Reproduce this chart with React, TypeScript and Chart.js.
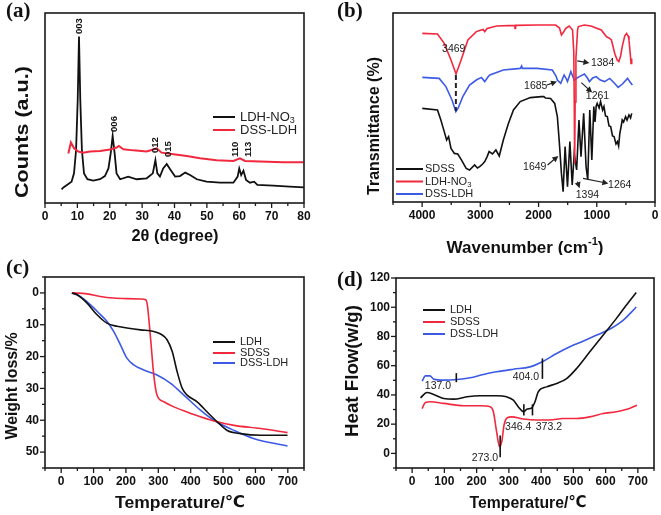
import React, { useEffect, useRef } from 'react';
import { Chart, registerables } from 'chart.js';

Chart.register(...registerables);

type Pt = [number, number];

const SANS = '"Liberation Sans", Arial, "DejaVu Sans", "Noto Sans CJK SC", sans-serif';
const SERIF = '"Liberation Serif", "Times New Roman", serif';
const RED = '#f2283e';
const BLUE = '#3c5ae6';
const BLACK = '#111111';

// ---------- (a) XRD ----------
const xrdAngleTicks = [0, 10, 20, 30, 40, 50, 60, 70, 80];
const xrdLdhNO3: Pt[] = [
  [5.1, 7.2], [5.7, 8.2], [8.2, 11.2], [8.96, 15.6], [9.6, 27.9], [10.1, 54.2], [10.5, 87.6], [10.9, 54.2],
  [11.4, 27.9], [12.05, 15.6], [13.1, 12.5], [14.9, 11.8], [17, 12.5], [18.5, 14.2], [19.6, 18.2], [20.3, 26.2],
  [20.9, 35.3], [21.5, 26.2], [22.1, 15.6], [23.2, 12.5], [25.7, 13.9], [28.3, 12.5], [31.4, 13.0], [33.3, 15.6],
  [34.1, 22.6], [34.7, 15.6], [35.5, 13.9], [36.5, 18.2], [37.6, 20.5], [38.8, 17.4], [40.2, 13.9], [41.7, 14.2],
  [43.3, 16.0], [44.8, 14.7], [46.9, 12.5], [49.9, 11.2], [54.1, 10.7], [58.2, 10.7], [59.5, 13.9], [60.0, 18.2],
  [60.6, 14.7], [61.3, 17.0], [62.1, 12.1], [63.3, 10.7], [64.6, 11.2], [65.6, 9.5], [70.5, 9.1], [75.6, 8.6], [80, 8.2],
];
const xrdDssLdh: Pt[] = [
  [7.2, 26.0], [8.0, 31.8], [9.0, 28.8], [10.3, 27.1], [11.8, 26.5], [13.9, 27.1], [17.0, 27.4], [20.1, 28.1],
  [22.1, 29.2], [22.8, 30.0], [24.2, 28.3], [27.3, 27.7], [31.4, 27.1], [33.7, 28.3], [34.5, 28.8], [36.0, 26.5],
  [39.7, 25.6], [43.8, 24.7], [47.9, 23.5], [53.0, 22.5], [58.2, 22.1], [60.2, 23.5], [61.8, 22.1], [66.4, 21.8],
  [73.6, 21.4], [79.8, 21.4],
];
const xrdPeakLabels = [
  { x: 10.6, y: 88.9, t: '003' }, { x: 21.3, y: 37.4, t: '006' }, { x: 34.0, y: 26.3, t: '012' },
  { x: 38.0, y: 24.2, t: '015' }, { x: 58.8, y: 24.2, t: '110' }, { x: 62.7, y: 24.2, t: '113' },
];

// ---------- (b) FTIR ----------
const ftirWaveTicks = [0, 1000, 2000, 3000, 4000];
const ftirLdhNO3: Pt[] = [
  [3997, 84.3], [3736, 84], [3620, 79.3], [3504, 71], [3417, 64], [3330, 71], [3214, 81], [3069, 85.2], [2953, 86.3],
  [2924, 85.2], [2883, 86.8], [2721, 88], [2410, 88.3], [2402, 86.8], [2394, 88.3], [2025, 88.5], [1706, 88.5],
  [1640, 87], [1607, 83.5], [1570, 85], [1532, 86.8], [1474, 88], [1416, 86], [1395, 75], [1387, 50], [1380, 19.3],
  [1372, 50], [1358, 72], [1330, 86], [1317, 87.7], [1213, 88.5], [1100, 88], [923, 86], [836, 82.7], [790, 82],
  [749, 81], [691, 74.3], [650, 71], [621, 70.2], [590, 73], [563, 77.7], [520, 83], [488, 84.3], [460, 83],
  [447, 81], [425, 74], [412, 69.3], [400, 71.8],
];
const ftirDssLdh: Pt[] = [
  [3997, 62.3], [3707, 61.8], [3591, 57.7], [3487, 51], [3420, 45.2], [3380, 47], [3301, 52.7], [3185, 58.5],
  [3069, 61], [2982, 62.3], [2924, 60.2], [2870, 62.5], [2837, 63.5], [2605, 66], [2315, 66.8], [2290, 68],
  [2280, 66.8], [2025, 66.8], [1764, 66], [1700, 63], [1677, 61], [1619, 59.3], [1561, 63.5], [1530, 62],
  [1503, 60.2], [1445, 65.2], [1387, 61], [1340, 62], [1300, 62.7], [1213, 64], [1160, 62], [1126, 60.2],
  [1070, 62], [1010, 62.7], [940, 61], [865, 60.2], [778, 61.8], [700, 59.5], [633, 57.3], [560, 59], [471, 61.8],
  [430, 60], [389, 58.5],
];
const ftirSdss: Pt[] = [
  [3997, 46.8], [3736, 46], [3678, 41], [3620, 35.2], [3579, 31], [3545, 32.7], [3504, 26.8], [3446, 24.3],
  [3388, 24], [3330, 21.3], [3243, 16.8], [3185, 16], [3098, 18.5], [3050, 17], [3011, 17.7], [2960, 19],
  [2924, 20.2], [2883, 22.7], [2849, 25.2], [2791, 24], [2733, 26], [2675, 23], [2605, 31], [2518, 39.3],
  [2431, 46], [2315, 50.2], [2141, 52.2], [1950, 52.7], [1909, 52.7], [1880, 52], [1793, 51.8], [1723, 49.3],
  [1677, 42.7], [1642, 29.3], [1607, 14.3], [1578, 5.2], [1544, 27.7], [1503, 7.7], [1462, 30.2], [1422, 8.5],
  [1387, 24.3], [1346, 16], [1306, 41], [1271, 22.7], [1225, 44.3], [1184, 17.7], [1155, 11], [1120, 46],
  [1085, 21], [1051, 47.7], [1030, 40], [1010, 48], [993, 49.3], [960, 47], [935, 50.2], [900, 46], [877, 47.7],
  [850, 43], [819, 42.7], [790, 38], [761, 37.7], [730, 33], [703, 32.7], [670, 29], [645, 30.2], [625, 28],
  [604, 34.3], [580, 38], [563, 41], [540, 40], [505, 42.7], [480, 41], [447, 43.5], [420, 42], [400, 44.3],
];
const ftirArrows = [
  { t: '1384', tx: 900, ty: 69.3, x1: 1335, y1: 70.6, x2: 1126, y2: 69.5 },
  { t: '1685', tx: 2048, ty: 58, x1: 1857, y1: 58.5, x2: 1683, y2: 60.2 },
  { t: '1261', tx: 987, ty: 52.7, x1: 1265, y1: 59.7, x2: 1079, y2: 54.7 },
  { t: '1649', tx: 2065, ty: 17.4, x1: 1845, y1: 18.5, x2: 1660, y2: 23 },
  { t: '1394', tx: 1161, ty: 3.5, x1: 1335, y1: 10.2, x2: 1295, y2: 6.9 },
  { t: '1264', tx: 605, ty: 8.5, x1: 1236, y1: 11.8, x2: 801, y2: 9.3 },
];
const ftirOH = { t: '3469', tx: 3457, ty: 76.3, x: 3420, y1: 63.5, y2: 45.5 };

// ---------- (c) TG ----------
const tgTempTicks = [0, 100, 200, 300, 400, 500, 600, 700];
const tgWeightTicks = [0, 10, 20, 30, 40, 50];
const tgLdh: Pt[] = [
  [33, 0], [48, 0.5], [80, 3.2], [110, 6.8], [141, 9.5], [172, 10.5], [203, 11], [245, 11.6], [286, 12.1],
  [307, 12.9], [327, 14.7], [343, 18.4], [358, 24.7], [374, 30], [389, 32.1], [420, 34.2], [451, 37.4],
  [482, 40.5], [513, 43.2], [554, 44.2], [616, 44.7], [699, 44.7],
];
const tgSdss: Pt[] = [
  [33, 0], [80, 0.3], [121, 1.1], [162, 1.6], [203, 1.8], [245, 1.9], [260, 2.1], [266, 3.7], [276, 14.2],
  [286, 25.8], [296, 32.1], [317, 34.2], [348, 35.8], [389, 37.4], [430, 38.9], [482, 40.5], [534, 41.6],
  [616, 42.6], [699, 43.9],
];
const tgDssLdh: Pt[] = [
  [33, 0], [59, 1.1], [90, 3.7], [121, 6.8], [141, 8.9], [162, 12.1], [183, 16.3], [203, 20.5], [224, 22.6],
  [255, 24.2], [296, 25.8], [338, 28.4], [379, 32.1], [430, 36.8], [472, 40], [534, 43.2], [596, 45.8], [699, 48.1],
];

// ---------- (d) DSC ----------
const dscTempTicks = [0, 100, 200, 300, 400, 500, 600, 700];
const dscFlowTicks = [0, 20, 40, 60, 80, 100, 120];
const dscLdh: Pt[] = [
  [26, 38], [46, 41.7], [67, 40.3], [98, 37.6], [129, 37.1], [170, 38.7], [211, 39.4], [262, 39.4], [293, 38.7],
  [314, 36.4], [329, 31.9], [345, 28.5], [357, 30.3], [371, 31.2], [381, 35.3], [391, 42.1], [417, 45.5],
  [448, 47.8], [479, 51.2], [510, 58.1], [551, 69.5], [592, 80.8], [633, 92.2], [664, 101.3], [695, 110],
];
const dscSdss: Pt[] = [
  [31, 30.7], [41, 34.8], [57, 35.3], [98, 34.2], [160, 32.6], [211, 32.6], [242, 31.9], [252, 28.5], [262, 14.8],
  [271, 4.6], [278, 8], [285, 19.4], [295, 24.4], [309, 25], [345, 23.5], [386, 22.8], [427, 22.8], [468, 23.9],
  [510, 23.9], [551, 25], [592, 27.3], [633, 28.5], [674, 30.7], [697, 33],
];
const dscDssLdh: Pt[] = [
  [31, 49.4], [41, 53], [55, 53], [67, 50.8], [98, 50.1], [139, 50.5], [180, 51.7], [221, 54], [262, 55.8],
  [314, 57.6], [365, 59.2], [407, 63.1], [448, 68.3], [489, 72.9], [530, 76.7], [571, 80.8], [612, 84.9],
  [654, 91], [695, 100.2],
];
const dscMarks = [
  { x: 137, y1: 48.7, y2: 54.9 }, { x: 404, y1: 51, y2: 65 }, { x: 346.4, y1: 26, y2: 33.6 },
  { x: 373.2, y1: 26, y2: 33.6 }, { x: 273, y1: -2.7, y2: 12.3 },
];
const dscLabels = [
  { x: 80, y: 46.3, t: '137.0' }, { x: 353, y: 52, t: '404.0' }, { x: 329, y: 18, t: '346.4' },
  { x: 424, y: 18, t: '373.2' }, { x: 226, y: -3.4, t: '273.0' },
];

// ---------- helpers ----------
interface Seg { t: string; s?: number; dy?: number }

function drawRich(
  ctx: CanvasRenderingContext2D, segs: Seg[], size: number, weight: string, family: string,
  x: number, y: number, align: 'left' | 'center', target?: number, rotate = false, color = BLACK,
) {
  ctx.save();
  ctx.translate(x, y);
  if (rotate) ctx.rotate(-Math.PI / 2);
  const widths = segs.map((sg) => {
    ctx.font = `${weight} ${(sg.s ?? 1) * size}px ${family}`;
    return ctx.measureText(sg.t).width;
  });
  const total = widths.reduce((a, b) => a + b, 0);
  const k = target ? target / total : 1;
  ctx.scale(k, 1);
  let cx = align === 'center' ? -total / 2 : 0;
  ctx.fillStyle = color;
  ctx.textBaseline = 'middle';
  ctx.textAlign = 'left';
  segs.forEach((sg, i) => {
    ctx.font = `${weight} ${(sg.s ?? 1) * size}px ${family}`;
    ctx.fillText(sg.t, cx, (sg.dy ?? 0) * size);
    cx += widths[i];
  });
  ctx.restore();
}

function arrow(ctx: CanvasRenderingContext2D, x1: number, y1: number, x2: number, y2: number) {
  const a = Math.atan2(y2 - y1, x2 - x1);
  const hl = 6, hw = 3;
  ctx.beginPath();
  ctx.moveTo(x1, y1);
  ctx.lineTo(x2 - hl * 0.8 * Math.cos(a), y2 - hl * 0.8 * Math.sin(a));
  ctx.stroke();
  ctx.beginPath();
  ctx.moveTo(x2, y2);
  ctx.lineTo(x2 - hl * Math.cos(a) + hw * Math.sin(a), y2 - hl * Math.sin(a) - hw * Math.cos(a));
  ctx.lineTo(x2 - hl * Math.cos(a) - hw * Math.sin(a), y2 - hl * Math.sin(a) + hw * Math.cos(a));
  ctx.closePath();
  ctx.fill();
}

interface Series { label: string; pts: Pt[]; color: string; width?: number; smooth?: boolean }
interface Title { segs: Seg[]; x: number; y: number; size: number; w: number }
interface Spec {
  series: Series[];
  xMin: number; xMax: number; xReverse?: boolean; xTicks: number[]; xMinor: number; xMajor: number;
  yMin: number; yMax: number; yReverse?: boolean; yTicks?: number[]; yMinor?: number; yMajor?: number;
  pad: { left: number; top: number; right: number; bottom: number };
  xAxisH: number; yAxisW?: number;
  xTitle: Title; yTitle: Title;
  label: { t: string; x: number; y: number };
  legend: { x: number; len: number; tx: number; ys: number[]; size: number; items: { segs: Seg[]; color: string }[] };
  annotate?: (chart: Chart, ctx: CanvasRenderingContext2D) => void;
}

function decor(spec: Spec) {
  return {
    id: 'decor',
    afterDraw(chart: Chart) {
      const ctx = chart.ctx;
      const { left, right, top, bottom } = chart.chartArea;
      const xs: any = chart.scales.x;
      const ys: any = chart.scales.y;
      ctx.save();
      if (spec.annotate) spec.annotate(chart, ctx);
      // frame
      ctx.strokeStyle = '#1a1a1a';
      ctx.lineWidth = 1.6;
      ctx.strokeRect(left, top, right - left, bottom - top);
      // x ticks
      ctx.lineWidth = 1.3;
      const lo = Math.min(spec.xMin, spec.xMax), hi = Math.max(spec.xMin, spec.xMax);
      for (let v = Math.ceil(lo / spec.xMinor) * spec.xMinor; v <= hi + 1e-9; v += spec.xMinor) {
        const px = xs.getPixelForValue(v);
        const major = Math.abs(v / spec.xMajor - Math.round(v / spec.xMajor)) < 1e-6;
        ctx.beginPath();
        ctx.moveTo(px, bottom);
        ctx.lineTo(px, bottom + (major ? 5 : 3));
        ctx.stroke();
      }
      if (spec.yMinor && spec.yMajor) {
        for (let v = Math.ceil(spec.yMin / spec.yMinor) * spec.yMinor; v <= spec.yMax + 1e-9; v += spec.yMinor) {
          const py = ys.getPixelForValue(v);
          const major = Math.abs(v / spec.yMajor - Math.round(v / spec.yMajor)) < 1e-6;
          ctx.beginPath();
          ctx.moveTo(left, py);
          ctx.lineTo(left - (major ? 5 : 3), py);
          ctx.stroke();
        }
      }
      // legend
      const lg = spec.legend;
      lg.items.forEach((it, i) => {
        ctx.strokeStyle = it.color;
        ctx.lineWidth = 2;
        ctx.beginPath();
        ctx.moveTo(lg.x, lg.ys[i]);
        ctx.lineTo(lg.x + lg.len, lg.ys[i]);
        ctx.stroke();
        drawRich(ctx, it.segs, lg.size, 'normal', SANS, lg.tx, lg.ys[i], 'left', undefined, false, '#222');
      });
      // titles
      const xt = spec.xTitle, yt = spec.yTitle;
      drawRich(ctx, xt.segs, xt.size, 'bold', SANS, xt.x, xt.y, 'center', xt.w);
      drawRich(ctx, yt.segs, yt.size, 'bold', SANS, yt.x, yt.y, 'center', yt.w, true);
      // panel label
      ctx.fillStyle = BLACK;
      ctx.font = `bold 21px ${SERIF}`;
      ctx.textBaseline = 'middle';
      ctx.textAlign = 'left';
      ctx.fillText(spec.label.t, spec.label.x, spec.label.y);
      ctx.restore();
    },
  };
}

function makeConfig(spec: Spec): any {
  const tickFont = { family: SANS, size: 12, weight: 'bold' as const };
  const plain = (v: any) => String(v);
  return {
    type: 'line',
    data: {
      datasets: spec.series.map((s) => ({
        label: s.label,
        data: s.pts.map(([x, y]) => ({ x, y })),
        borderColor: s.color,
        borderWidth: s.width ?? 1.6,
        pointRadius: 0,
        fill: false,
        tension: s.smooth ? 0.4 : 0,
        cubicInterpolationMode: s.smooth ? 'monotone' : 'default',
      })),
    },
    options: {
      responsive: false,
      animation: false,
      devicePixelRatio: 1,
      events: [],
      layout: { padding: spec.pad },
      plugins: { legend: { display: false }, tooltip: { enabled: false } },
      scales: {
        x: {
          type: 'linear',
          min: Math.min(spec.xMin, spec.xMax),
          max: Math.max(spec.xMin, spec.xMax),
          reverse: !!spec.xReverse,
          grid: { display: false, drawTicks: false },
          border: { display: false },
          ticks: { font: tickFont, color: BLACK, padding: 6, autoSkip: false, maxRotation: 0, callback: plain },
          afterBuildTicks: (s: any) => { s.ticks = spec.xTicks.map((v) => ({ value: v })); },
          afterFit: (s: any) => { s.height = spec.xAxisH; },
        },
        y: {
          type: 'linear',
          display: !!spec.yTicks,
          min: spec.yMin,
          max: spec.yMax,
          reverse: !!spec.yReverse,
          grid: { display: false, drawTicks: false },
          border: { display: false },
          ticks: { font: tickFont, color: BLACK, padding: 6, autoSkip: false, callback: plain },
          afterBuildTicks: (s: any) => { if (spec.yTicks) s.ticks = spec.yTicks.map((v) => ({ value: v })); },
          afterFit: (s: any) => { s.width = spec.yAxisW ?? 0; },
        },
      },
    },
    plugins: [decor(spec)],
  };
}

function Panel({ spec, left, top, width, height }: { spec: Spec; left: number; top: number; width: number; height: number }) {
  const ref = useRef<HTMLCanvasElement>(null);
  useEffect(() => {
    if (!ref.current) return;
    const chart = new Chart(ref.current, makeConfig(spec));
    return () => chart.destroy();
  }, [spec]);
  return <canvas ref={ref} width={width} height={height} style={{ position: 'absolute', left, top, width, height }} />;
}

const legendNO3: Seg[] = [{ t: 'LDH-NO' }, { t: '3', s: 0.7, dy: 0.3 }];
const CELSIUS: Seg[] = [{ t: 'Temperature/' }, { t: '℃', s: 0.95 }];

const specA: Spec = {
  series: [
    { label: 'DSS-LDH', pts: xrdDssLdh, color: RED, width: 2 },
    { label: 'LDH-NO3', pts: xrdLdhNO3, color: BLACK, width: 1.8 },
  ],
  xMin: 0, xMax: 80, xTicks: xrdAngleTicks, xMinor: 5, xMajor: 10,
  yMin: 0, yMax: 100,
  pad: { left: 45, top: 13, right: 26, bottom: 0 }, xAxisH: 52,
  xTitle: { segs: [{ t: '2θ (degree)' }], x: 175, y: 237, size: 16, w: 87 },
  yTitle: { segs: [{ t: 'Counts (a.u.)' }], x: 23, y: 132, size: 19, w: 132 },
  label: { t: '(a)', x: 6, y: 12 },
  legend: {
    x: 213, len: 22, tx: 240, ys: [117, 130], size: 13,
    items: [{ segs: legendNO3, color: BLACK }, { segs: [{ t: 'DSS-LDH' }], color: RED }],
  },
  annotate: (chart, ctx) => {
    const xs: any = chart.scales.x, ys: any = chart.scales.y;
    ctx.fillStyle = BLACK;
    ctx.font = `bold 9.5px ${SANS}`;
    xrdPeakLabels.forEach((p) => {
      ctx.save();
      ctx.translate(xs.getPixelForValue(p.x), ys.getPixelForValue(p.y));
      ctx.rotate(-Math.PI / 2);
      ctx.textAlign = 'left';
      ctx.textBaseline = 'middle';
      ctx.fillText(p.t, 0, 0);
      ctx.restore();
    });
  },
};

const specB: Spec = {
  series: [
    { label: 'LDH-NO3', pts: ftirLdhNO3, color: RED, width: 1.6 },
    { label: 'DSS-LDH', pts: ftirDssLdh, color: BLUE, width: 1.6 },
    { label: 'SDSS', pts: ftirSdss, color: BLACK, width: 1.6 },
  ],
  xMin: 0, xMax: 4500, xReverse: true, xTicks: ftirWaveTicks, xMinor: 500, xMajor: 1000,
  yMin: 0, yMax: 94.5,
  pad: { left: 63, top: 13, right: 6, bottom: 0 }, xAxisH: 53,
  xTitle: { segs: [{ t: 'Wavenumber (cm' }, { t: '-1', s: 0.65, dy: -0.35 }, { t: ')' }], x: 195, y: 248, size: 17, w: 157 },
  yTitle: { segs: [{ t: 'Transmittance (%)' }], x: 44, y: 126, size: 17, w: 138 },
  label: { t: '(b)', x: 7, y: 12 },
  legend: {
    x: 66, len: 27, tx: 95, ys: [169, 181.5, 194], size: 11,
    items: [
      { segs: [{ t: 'SDSS' }], color: BLACK },
      { segs: [{ t: 'LDH-NO' }, { t: '3', s: 0.7, dy: 0.3 }], color: RED },
      { segs: [{ t: 'DSS-LDH' }], color: BLUE },
    ],
  },
  annotate: (chart, ctx) => {
    const xs: any = chart.scales.x, ys: any = chart.scales.y;
    ctx.fillStyle = '#222';
    ctx.strokeStyle = '#222';
    ctx.font = `10.5px ${SANS}`;
    ctx.textAlign = 'center';
    ctx.textBaseline = 'middle';
    ctx.fillText(ftirOH.t, xs.getPixelForValue(ftirOH.tx), ys.getPixelForValue(ftirOH.ty));
    ctx.save();
    ctx.setLineDash([5, 3]);
    ctx.lineWidth = 2;
    ctx.beginPath();
    ctx.moveTo(xs.getPixelForValue(ftirOH.x), ys.getPixelForValue(ftirOH.y1));
    ctx.lineTo(xs.getPixelForValue(ftirOH.x), ys.getPixelForValue(ftirOH.y2));
    ctx.stroke();
    ctx.restore();
    ctx.lineWidth = 1.2;
    ftirArrows.forEach((a) => {
      ctx.fillText(a.t, xs.getPixelForValue(a.tx), ys.getPixelForValue(a.ty));
      arrow(ctx, xs.getPixelForValue(a.x1), ys.getPixelForValue(a.y1), xs.getPixelForValue(a.x2), ys.getPixelForValue(a.y2));
    });
  },
};

const specC: Spec = {
  series: [
    { label: 'LDH', pts: tgLdh, color: BLACK, smooth: true },
    { label: 'SDSS', pts: tgSdss, color: RED, smooth: true },
    { label: 'DSS-LDH', pts: tgDssLdh, color: BLUE, smooth: true },
  ],
  xMin: -50, xMax: 750, xTicks: tgTempTicks, xMinor: 50, xMajor: 100,
  yMin: -5, yMax: 55, yReverse: true, yTicks: tgWeightTicks, yMinor: 5, yMajor: 10,
  pad: { left: 0, top: 22, right: 26, bottom: 0 }, xAxisH: 47, yAxisW: 45,
  xTitle: { segs: CELSIUS, x: 180, y: 248, size: 17, w: 130 },
  yTitle: { segs: [{ t: 'Weight loss/%' }], x: 13, y: 131, size: 16, w: 107 },
  label: { t: '(c)', x: 6, y: 14 },
  legend: {
    x: 213, len: 22, tx: 240, ys: [87, 98, 108], size: 11,
    items: [
      { segs: [{ t: 'LDH' }], color: BLACK },
      { segs: [{ t: 'SDSS' }], color: RED },
      { segs: [{ t: 'DSS-LDH' }], color: BLUE },
    ],
  },
};

const specD: Spec = {
  series: [
    { label: 'LDH', pts: dscLdh, color: BLACK, smooth: true },
    { label: 'SDSS', pts: dscSdss, color: RED, smooth: true },
    { label: 'DSS-LDH', pts: dscDssLdh, color: BLUE, smooth: true },
  ],
  xMin: -50, xMax: 750, xTicks: dscTempTicks, xMinor: 50, xMajor: 100,
  yMin: -10, yMax: 120, yTicks: dscFlowTicks, yMinor: 10, yMajor: 20,
  pad: { left: 0, top: 23, right: 7, bottom: 0 }, xAxisH: 47, yAxisW: 66,
  xTitle: { segs: CELSIUS, x: 198, y: 248, size: 17, w: 117 },
  yTitle: { segs: [{ t: 'Heat Flow(w/g)' }], x: 23, y: 116, size: 18, w: 132 },
  label: { t: '(d)', x: 7, y: 26 },
  legend: {
    x: 93, len: 22, tx: 120, ys: [55, 67, 79], size: 11,
    items: [
      { segs: [{ t: 'LDH' }], color: BLACK },
      { segs: [{ t: 'SDSS' }], color: RED },
      { segs: [{ t: 'DSS-LDH' }], color: BLUE },
    ],
  },
  annotate: (chart, ctx) => {
    const xs: any = chart.scales.x, ys: any = chart.scales.y;
    ctx.strokeStyle = BLACK;
    ctx.lineWidth = 1.6;
    dscMarks.forEach((m) => {
      const px = xs.getPixelForValue(m.x);
      ctx.beginPath();
      ctx.moveTo(px, ys.getPixelForValue(m.y1));
      ctx.lineTo(px, ys.getPixelForValue(m.y2));
      ctx.stroke();
    });
    ctx.fillStyle = '#222';
    ctx.font = `10.5px ${SANS}`;
    ctx.textAlign = 'center';
    ctx.textBaseline = 'middle';
    dscLabels.forEach((l) => ctx.fillText(l.t, xs.getPixelForValue(l.x), ys.getPixelForValue(l.y)));
  },
};

export default function App() {
  return (
    <div style={{ position: 'absolute', left: 0, top: 0, width: 661, height: 515, background: '#fff' }}>
      <Panel spec={specA} left={0} top={0} width={330} height={255} />
      <Panel spec={specB} left={330} top={0} width={331} height={255} />
      <Panel spec={specC} left={0} top={255} width={330} height={260} />
      <Panel spec={specD} left={330} top={255} width={331} height={260} />
    </div>
  );
}
